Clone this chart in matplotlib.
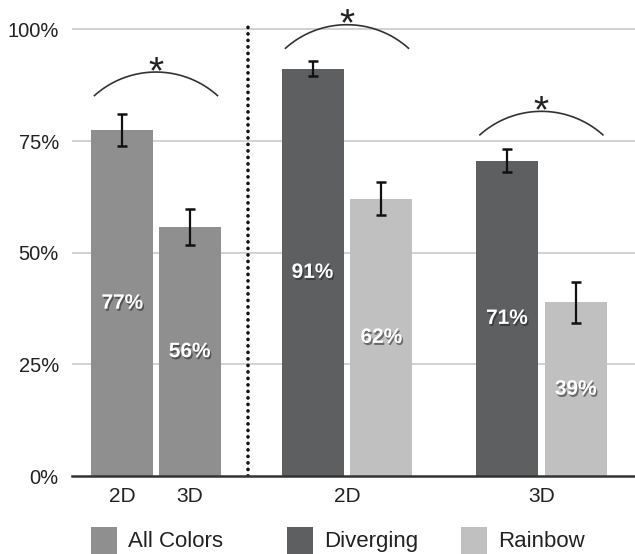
import matplotlib
matplotlib.use('Agg')
import matplotlib.pyplot as plt
import matplotlib.patheffects as pe
from matplotlib.patches import Rectangle
import numpy as np

plt.rcParams['font.family'] = ['Liberation Sans', 'DejaVu Sans']

# data (percent correct)
series = ['All Colors', 'Diverging', 'Rainbow']
colors = ['#8f8f8f', '#5d5f61', '#c0c0c0']
all_vals = [77.4, 55.7]
all_err = [3.6, 4.0]
div_vals = [91.2, 70.6]
div_err = [1.7, 2.6]
rain_vals = [62.1, 38.9]
rain_err = [3.7, 4.6]
tick_labels = ['2D', '3D', '2D', '3D']
yticks = [0, 25, 50, 75, 100]

# layout (bar centres in slot units)
all_x = [1, 2]
div_x = [3.82, 6.70]
rain_x = [4.84, 7.72]
bw = 0.92
sep_x = 2.864
bracket_base = [85.2, 95.8, 76.4]

W, H = 635, 554
fig = plt.figure(figsize=(W / 100, H / 100), dpi=100)
ax = fig.add_axes([72 / W, 78 / H, 563 / W, 476 / H])
xlim = (0.256, 8.597)
ylim = (0, 106.6)
ax.set_xlim(*xlim)
ax.set_ylim(*ylim)
px_x = 563 / (xlim[1] - xlim[0])
px_y = 476 / (ylim[1] - ylim[0])

for y in yticks[1:]:
    ax.axhline(y, color='#c6c6c6', lw=1.1, zorder=0)

ekw = dict(ecolor='#111111', elinewidth=1.6, capsize=3.4, capthick=1.8)
ax.bar(all_x, all_vals, bw, color=colors[0], yerr=all_err, error_kw=ekw, zorder=2)
ax.bar(div_x, div_vals, bw, color=colors[1], yerr=div_err, error_kw=ekw, zorder=2)
ax.bar(rain_x, rain_vals, bw, color=colors[2], yerr=rain_err, error_kw=ekw, zorder=2)

shadow = [pe.withSimplePatchShadow(offset=(1, -1.5), shadow_rgbFace='#222222', alpha=0.55)]
for xs, vs in [(all_x, all_vals), (div_x, div_vals), (rain_x, rain_vals)]:
    for x, v in zip(xs, vs):
        ax.text(x, v / 2, '%d%%' % round(v), color='white', fontsize=15, fontweight='bold',
                ha='center', va='center', zorder=3, path_effects=shadow)

ax.plot([sep_x, sep_x], [0, 101.5], color='#111111', lw=2.6, linestyle=(0, (0.05, 1.75)),
        dash_capstyle='round', zorder=3)

# significance arcs
pairs = [(all_x[0], all_x[1]), (div_x[0], rain_x[0]), (div_x[1], rain_x[1])]
hc_px, s_px = 61.5, 23.5
r_px = (hc_px ** 2 + s_px ** 2) / (2 * s_px)
t1 = np.arccos(hc_px / r_px)
t = np.linspace(t1, np.pi - t1, 80)
for (a, b), base in zip(pairs, bracket_base):
    cx = (a + b) / 2
    peak = base + s_px / px_y
    cy = peak - r_px / px_y
    ax.plot(cx + r_px * np.cos(t) / px_x, cy + r_px * np.sin(t) / px_y,
            color='#333333', lw=1.2, zorder=3)
    ax.text(cx, peak - 11 / px_y, '*', fontsize=28, ha='center', va='baseline', color='#222222')

for s in ['top', 'right', 'left']:
    ax.spines[s].set_visible(False)
ax.spines['bottom'].set_color('#333333')
ax.spines['bottom'].set_linewidth(1.8)
ax.spines['bottom'].set_zorder(4)

ax.set_yticks(yticks)
ax.set_yticklabels(['%d%%' % v for v in yticks])
ax.set_xticks([all_x[0], all_x[1], (div_x[0] + rain_x[0]) / 2, (div_x[1] + rain_x[1]) / 2])
ax.set_xticklabels(tick_labels)
ax.tick_params(axis='y', length=0, pad=9.5, labelsize=14.5, labelcolor='#222222')
ax.tick_params(axis='x', length=0, pad=8, labelsize=15, labelcolor='#222222')

# legend
leg_sq = [91, 287, 461]
for x0, c, name in zip(leg_sq, colors, series):
    fig.add_artist(Rectangle((x0 / W, 0), 26 / W, 27 / H, transform=fig.transFigure,
                             color=c, lw=0))
    fig.text((x0 + 37) / W, 7 / H, name, fontsize=16, color='#222222', va='baseline')

fig.savefig('out.png', dpi=100)
